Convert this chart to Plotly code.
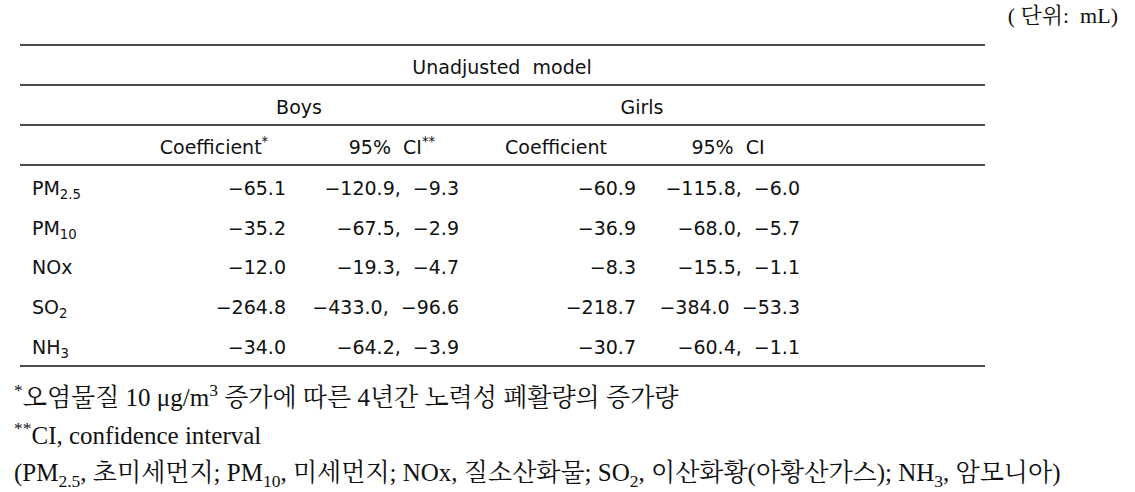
import plotly.graph_objects as go

# ---- data ----
pollutants = ["PM<sub>2.5</sub>", "PM<sub>10</sub>", "NOx", "SO<sub>2</sub>", "NH<sub>3</sub>"]
boys_coef = [-65.1, -35.2, -12.0, -264.8, -34.0]
boys_ci_low = [-120.9, -67.5, -19.3, -433.0, -64.2]
boys_ci_high = [-9.3, -2.9, -4.7, -96.6, -3.9]
girls_coef = [-60.9, -36.9, -8.3, -218.7, -30.7]
girls_ci_low = [-115.8, -68.0, -15.5, -384.0, -60.4]
girls_ci_high = [-6.0, -5.7, -1.1, -53.3, -1.1]
girls_ci_sep = [",", ",", ",", "", ","]

title_text = "Unadjusted\u00a0\u00a0model"
group_labels = ["Boys", "Girls"]
col_headers = ["Coefficient<sup>*</sup>", "95%\u00a0\u00a0CI<sup>**</sup>", "Coefficient", "95%\u00a0\u00a0CI"]
unit_text = "(\u00a0단위:\u00a0\u00a0mL)"
footnotes = [
    "<sup>*</sup>오염물질 10 μg/m<sup>3</sup> 증가에 따른 4년간 노력성 폐활량의 증가량",
    "<sup>**</sup>CI, confidence interval",
    "(PM<sub>2.5</sub>, 초미세먼지; PM<sub>10</sub>, 미세먼지; NOx, 질소산화물; SO<sub>2</sub>, 이산화황(아황산가스); NH<sub>3</sub>, 암모니아)",
]

W, H = 1135, 492
SANS = "DejaVu Sans, Noto Sans CJK KR, sans-serif"
SERIF = "Liberation Serif, Noto Serif CJK KR, Noto Sans CJK KR, serif"
BLACK = "#111111"


def fmt(v):
    return f"{v:.1f}".replace("-", "\u2212")


def ci(lo, hi, sep=","):
    return f"{fmt(lo)}{sep}\u00a0\u00a0{fmt(hi)}"


# ---- layout positions (pixels) ----
rule_y = [45, 85, 125, 165, 366]
rule_x0, rule_x1 = 20, 985
row_y0, row_dy = 190, 39.8
row_ys = [row_y0 + i * row_dy for i in range(len(pollutants))]
label_x = 32
col_right = [286, 459, 636, 800]

fig = go.Figure()

def text_trace(xs, ys, texts, pos, size=19, family=SANS):
    fig.add_trace(go.Scatter(
        x=xs, y=ys, text=texts, mode="text", textposition=pos,
        textfont=dict(family=family, size=size, color=BLACK),
        hoverinfo="skip", showlegend=False, cliponaxis=False,
    ))

# header texts
text_trace([502], [69], [title_text], "middle center")
text_trace([299, 642], [109, 109], group_labels, "middle center")
text_trace([214, 392, 556, 728], [149] * 4, col_headers, "middle center")

# row labels
text_trace([label_x] * len(pollutants), row_ys, pollutants, "middle right")

# values
text_trace([col_right[0]] * 5, row_ys, [fmt(v) for v in boys_coef], "middle left")
text_trace([col_right[1]] * 5, row_ys,
           [ci(l, h) for l, h in zip(boys_ci_low, boys_ci_high)], "middle left")
text_trace([col_right[2]] * 5, row_ys, [fmt(v) for v in girls_coef], "middle left")
text_trace([col_right[3]] * 5, row_ys,
           [ci(l, h, s) for l, h, s in zip(girls_ci_low, girls_ci_high, girls_ci_sep)], "middle left")

# unit (top right)
text_trace([1118], [17], [unit_text], "middle left", size=22, family=SERIF)

# footnotes
text_trace([14] * 3, [400, 438, 475], footnotes, "middle right", size=25, family=SERIF)

shapes = [
    dict(type="line", xref="x", yref="y", x0=rule_x0, x1=rule_x1, y0=y, y1=y,
         line=dict(color=BLACK, width=1.3))
    for y in rule_y
]

fig.update_layout(
    width=W, height=H,
    margin=dict(l=0, r=0, t=0, b=0),
    paper_bgcolor="white", plot_bgcolor="white",
    xaxis=dict(range=[0, W], visible=False, fixedrange=True),
    yaxis=dict(range=[H, 0], visible=False, fixedrange=True),
    shapes=shapes,
    showlegend=False,
)

fig.write_html(
    "out.html",
    config={"displayModeBar": False},
    post_script="document.body.style.margin='0';document.body.style.overflow='hidden';",
)
